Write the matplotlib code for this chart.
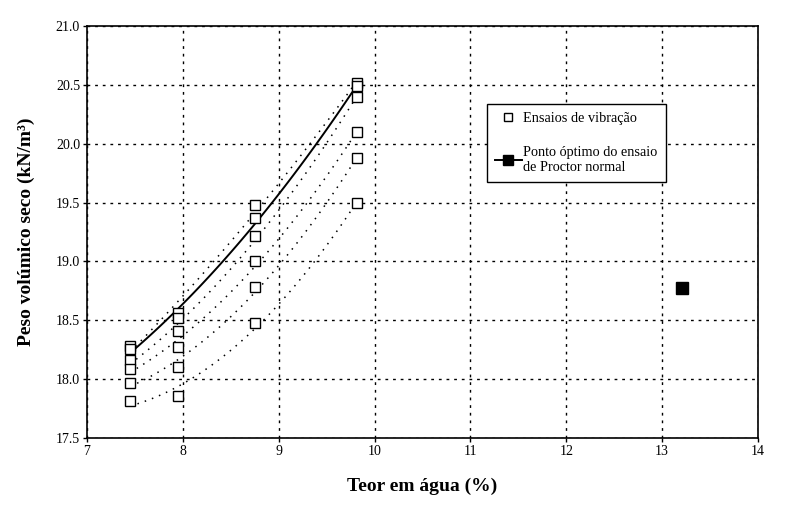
import numpy as np
import matplotlib
matplotlib.use("Agg")
import matplotlib.pyplot as plt
from matplotlib.lines import Line2D

plt.rcParams['font.family'] = ['Liberation Serif', 'DejaVu Serif']

# Teor em água dos ensaios de vibração (%)
teor_agua = [7.45, 7.95, 8.75, 9.82]

# Peso volúmico seco por série de ensaios (kN/m3)
serie_1 = [18.28, 18.56, 19.48, 20.52]
serie_2 = [18.26, 18.52, 19.37, 20.49]   # série com curva contínua
serie_3 = [18.16, 18.41, 19.22, 20.40]
serie_4 = [18.09, 18.27, 19.00, 20.10]
serie_5 = [17.97, 18.10, 18.78, 19.88]
serie_6 = [17.81, 17.86, 18.48, 19.50]
series_pontilhadas = [serie_1, serie_3, serie_4, serie_5, serie_6]

# Ponto óptimo do ensaio de Proctor normal
proctor_w = [13.21]
proctor_gd = [18.77]

fig = plt.figure(figsize=(7.86, 5.16), dpi=100)
ax = fig.add_axes([0.1107, 0.1512, 0.8537, 0.7984])

ax.set_xlim(7, 14)
ax.set_ylim(17.5, 21.0)
ax.set_xticks(range(7, 15))
ax.set_yticks(np.arange(17.5, 21.01, 0.5))
ax.set_yticklabels([f"{v:.1f}" for v in np.arange(17.5, 21.01, 0.5)])
ax.tick_params(direction='out', length=3, width=1, labelsize=10, pad=2)

ax.grid(True, color='black', linestyle=(0, (2, 3.5)), linewidth=1.0)
ax.set_axisbelow(True)
for s in ax.spines.values():
    s.set_linewidth(1.2)

# curvas de tendência (polinómio de 2.º grau) de cada série
xs = np.linspace(teor_agua[0], teor_agua[-1], 100)
for serie in series_pontilhadas:
    c = np.polyfit(teor_agua, serie, 2)
    ax.plot(xs, np.polyval(c, xs), color='black', linestyle=(0, (1, 4)),
            linewidth=1.1)
c = np.polyfit(teor_agua, serie_2, 2)
ax.plot(xs, np.polyval(c, xs), color='black', linewidth=1.4)

# pontos dos ensaios
for serie in [serie_1, serie_2, serie_3, serie_4, serie_5, serie_6]:
    ax.plot(teor_agua, serie, linestyle='none', marker='s', markersize=7,
            markerfacecolor='white', markeredgecolor='black',
            markeredgewidth=1.0)

ax.plot(proctor_w, proctor_gd, linestyle='none', marker='s', markersize=9,
        color='black')

ax.set_xlabel("Teor em água (%)", fontsize=14, fontweight='bold', labelpad=14)
ax.set_ylabel("Peso volúmico seco (kN/m³)", fontsize=14,
              fontweight='bold', labelpad=15)

handles = [
    Line2D([], [], linestyle='none', marker='s', markersize=6,
           markerfacecolor='white', markeredgecolor='black'),
    Line2D([], [], color='black', linewidth=1.4, marker='s', markersize=7,
           markerfacecolor='black'),
]
labels = ["Ensaios de vibração", "Ponto óptimo do ensaio\nde Proctor normal"]
leg = ax.legend(handles, labels, loc='upper left',
                bbox_to_anchor=(0.596, 0.811), fontsize=10.3, frameon=True,
                fancybox=False, shadow=False, labelspacing=1.5,
                handlelength=1.9, handletextpad=0.1, borderpad=0.55,
                borderaxespad=0)
leg.get_frame().set_edgecolor('black')
leg.get_frame().set_linewidth(1.0)
leg.get_frame().set_alpha(1)

fig.savefig("out.png", dpi=100)
